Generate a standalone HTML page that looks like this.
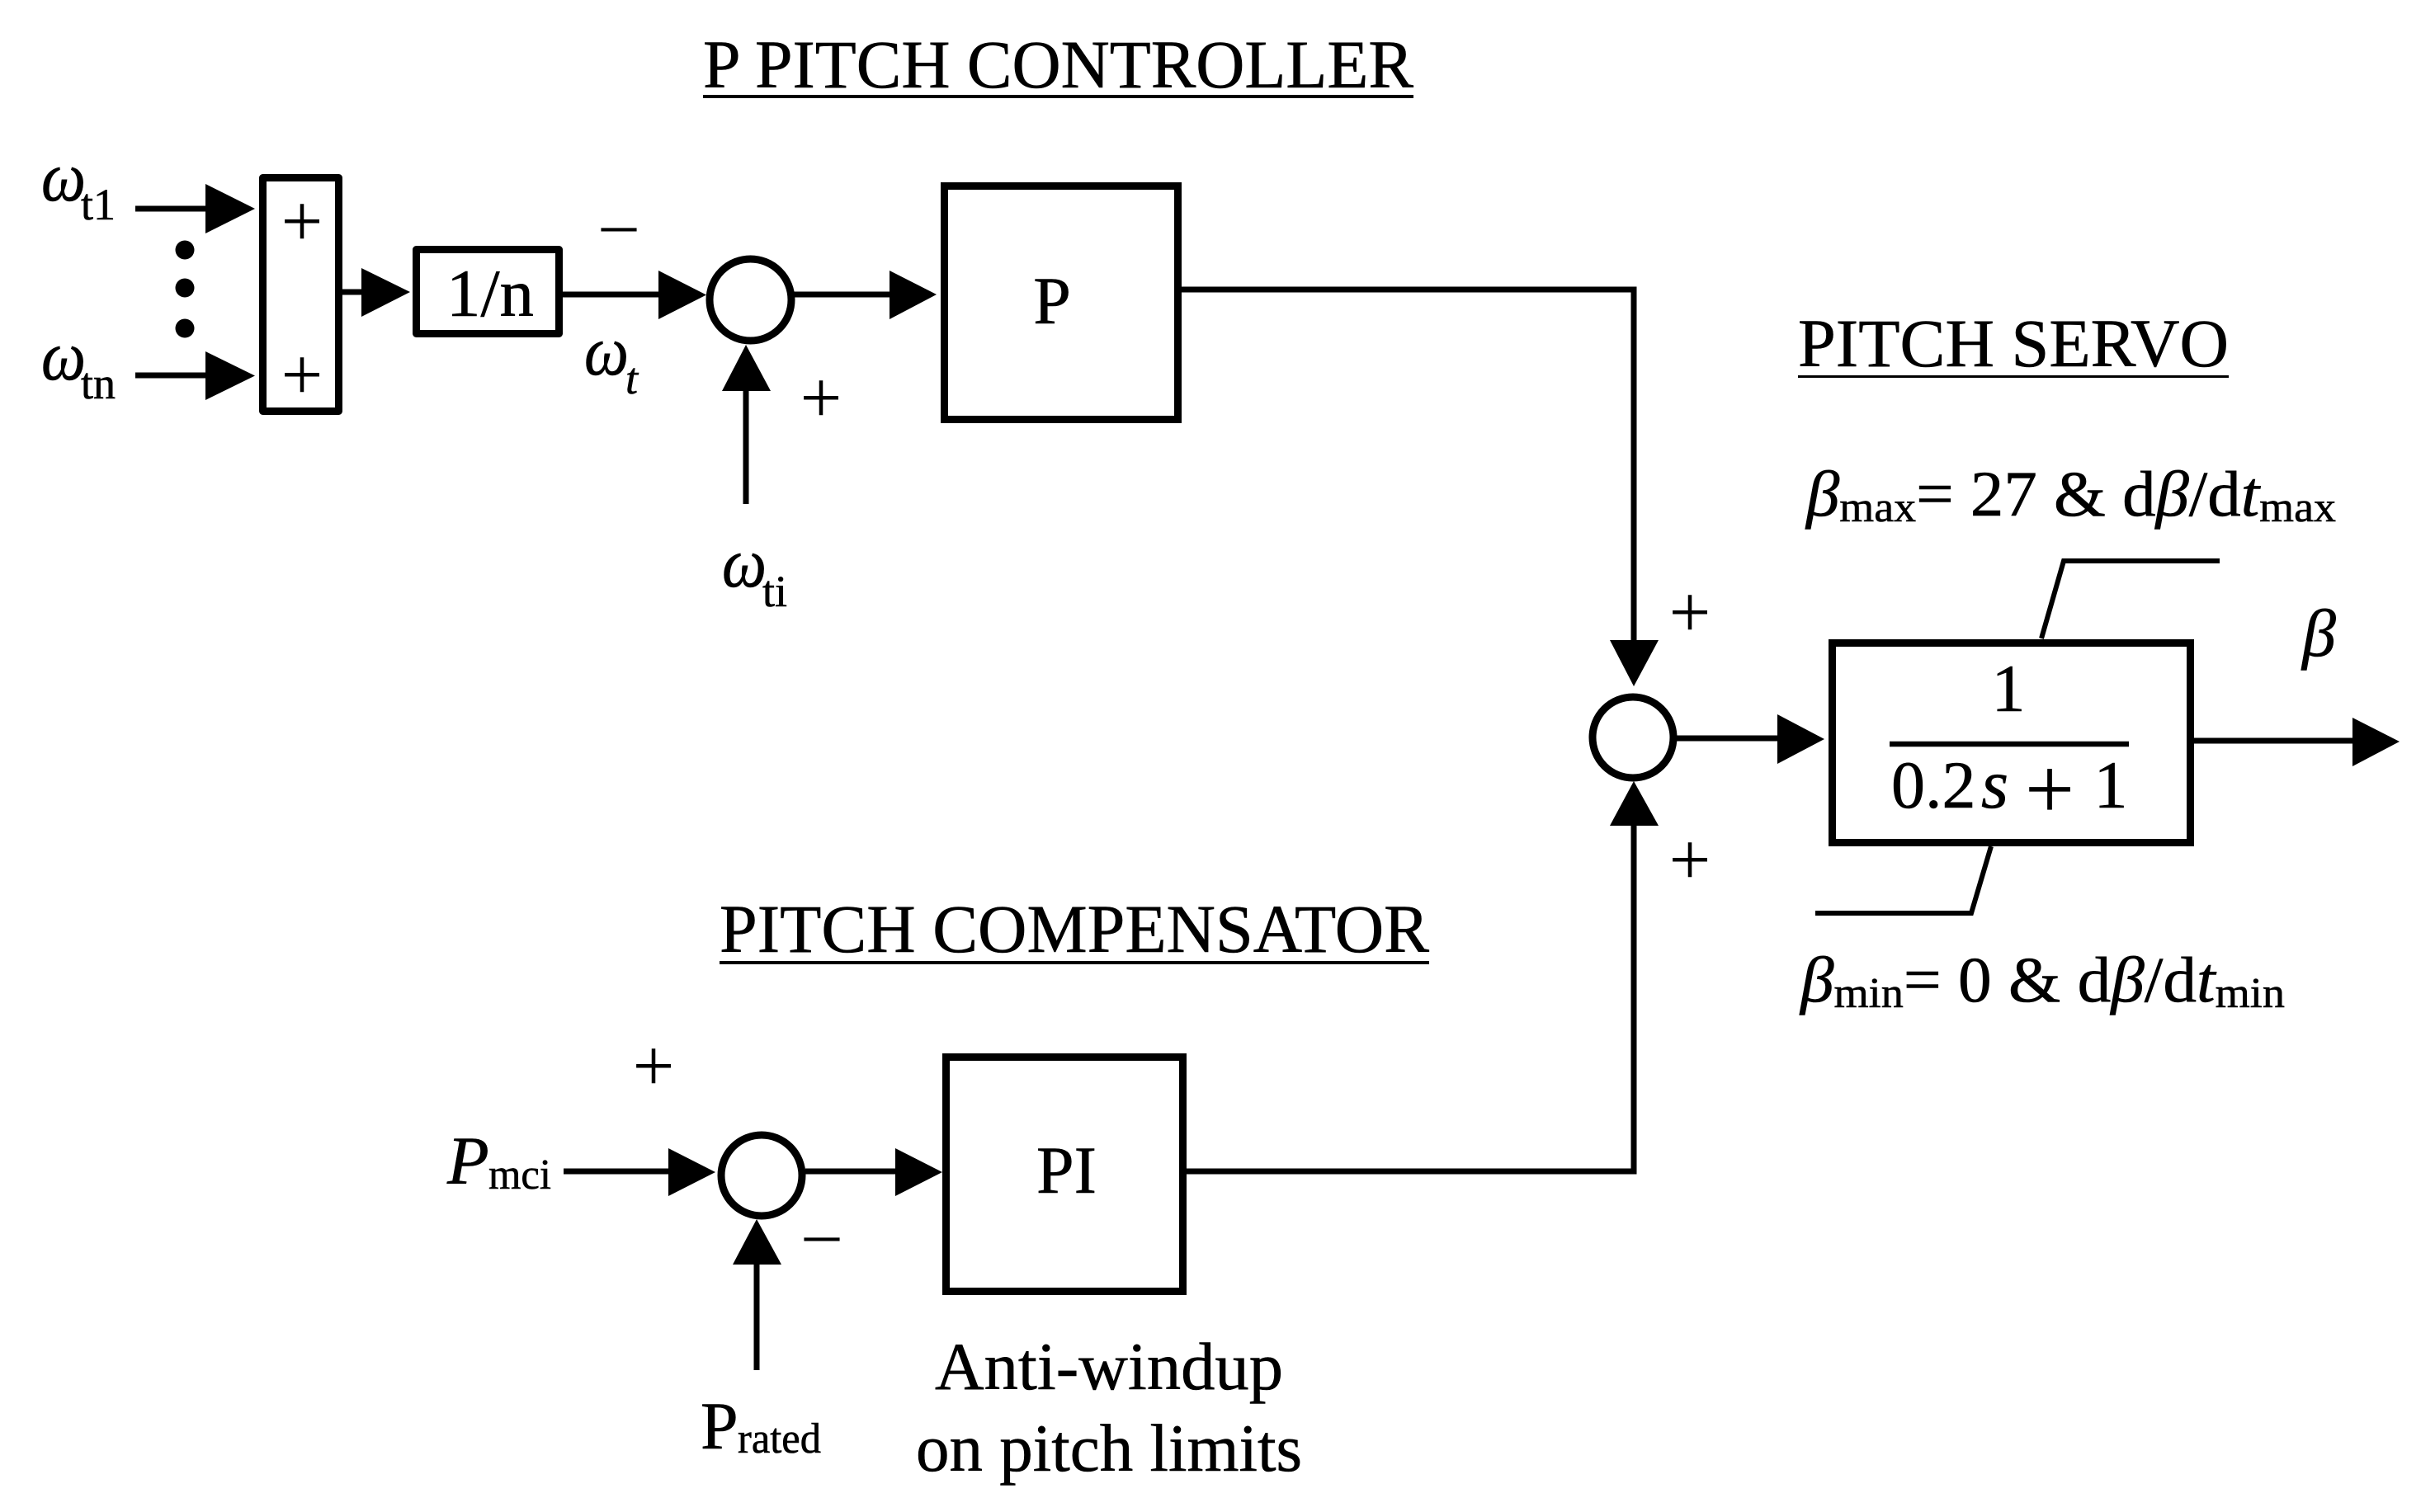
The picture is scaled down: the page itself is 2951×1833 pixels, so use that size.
<!DOCTYPE html>
<html><head><meta charset="utf-8">
<style>
html,body{margin:0;padding:0;background:#fff;width:2951px;height:1833px;overflow:hidden}
svg{display:block}
text{font-family:"Liberation Serif","DejaVu Serif",serif;fill:#000;stroke:#000;stroke-width:.6}
.i{font-style:italic}
.s{font-size:90px;text-anchor:middle;stroke-width:0}
.m{font-size:84px;text-anchor:middle;stroke-width:0}
</style></head><body>
<svg width="2951" height="1833" viewBox="0 0 2951 1833" xmlns="http://www.w3.org/2000/svg">
<rect width="2951" height="1833" fill="#fff" stroke="none"/>

<!-- Titles -->
<text x="852" y="106" font-size="83" textLength="861" lengthAdjust="spacingAndGlyphs">P PITCH CONTROLLER</text>
<rect x="852" y="115" width="861" height="4"/>
<text x="2179" y="444" font-size="83" textLength="522" lengthAdjust="spacingAndGlyphs">PITCH SERVO</text>
<rect x="2179" y="455" width="522" height="3"/>
<text x="872" y="1154" font-size="83" textLength="860" lengthAdjust="spacingAndGlyphs">PITCH COMPENSATOR</text>
<rect x="872" y="1165" width="860" height="4"/>

<g fill="none" stroke="#000">
<!-- Boxes -->
<rect x="318.5" y="215.5" width="92" height="283" stroke-width="9" stroke-linejoin="round"/>
<rect x="504.5" y="302.5" width="173" height="102" stroke-width="9" stroke-linejoin="round"/>
<rect x="1144.5" y="225.5" width="283" height="283" stroke-width="9"/>
<rect x="2220.5" y="779.5" width="434" height="242" stroke-width="9"/>
<rect x="1146.5" y="1281.5" width="287" height="284" stroke-width="9"/>
<!-- Circles -->
<circle cx="909.5" cy="363.5" r="49.5" stroke-width="9"/>
<circle cx="1979" cy="894" r="49" stroke-width="9"/>
<circle cx="923" cy="1425" r="49" stroke-width="9"/>
<!-- Connectors -->
<g stroke-width="7">
<path d="M164 253H255"/>
<path d="M164 455H255"/>
<path d="M414 354H442"/>
<path d="M681 357H803"/>
<path d="M961 357H1082"/>
<path d="M1432 351H1980V780"/>
<path d="M2032 895H2158"/>
<path d="M2659 898H2855"/>
<path d="M683 1420H814"/>
<path d="M976 1420H1089"/>
<path d="M1438 1420H1980V997"/>
<path d="M904 611V470"/>
<path d="M917 1661V1530"/>
</g>
<!-- Limiters -->
<path d="M2474 774L2501 680H2690" stroke-width="6"/>
<path d="M2413 1026L2389 1107H2200" stroke-width="6"/>
<!-- Fraction bar -->
<path d="M2290 902H2580" stroke-width="6.5"/>
</g>

<!-- Arrowheads -->
<g fill="#000">
<polygon points="249,223 309,253 249,283"/>
<polygon points="249,426 309,455.5 249,485"/>
<polygon points="438,325 497,354 438,384"/>
<polygon points="798,328 856,357.5 798,387"/>
<polygon points="1078,328 1135,357 1078,387"/>
<polygon points="875,474 904,418 934,474"/>
<polygon points="1951,776 2010,776 1980,832"/>
<polygon points="1951,1001 2010,1001 1980,947"/>
<polygon points="2154,866 2211,896 2154,926"/>
<polygon points="2851,870 2908,899 2851,929"/>
<polygon points="810,1392 867,1421 810,1450"/>
<polygon points="1085,1392 1142,1421 1085,1450"/>
<polygon points="888,1533 917,1478 947,1533"/>
<!-- Dots -->
<circle cx="224" cy="303" r="11.5"/>
<circle cx="224" cy="349" r="11.5"/>
<circle cx="224" cy="398" r="11.5"/>
</g>

<!-- Signs -->
<text class="s" x="366" y="298">+</text>
<text class="s" x="366" y="484">+</text>
<text class="s" x="995" y="512">+</text>
<text class="s" x="2048" y="772">+</text>
<text class="s" x="2048" y="1072">+</text>
<text class="s" x="792" y="1322">+</text>
<text class="m" x="750" y="298">–</text>
<text class="m" x="996" y="1522">–</text>

<!-- Block labels -->
<text x="541" y="383" font-size="82" textLength="106" lengthAdjust="spacingAndGlyphs">1/n</text>
<text x="1275" y="392" font-size="82" text-anchor="middle">P</text>
<text x="1292.5" y="1446" font-size="82" text-anchor="middle">PI</text>
<text x="2434" y="862" font-size="82" text-anchor="middle">1</text>
<text x="2292" y="979" font-size="82">0.2</text>
<text x="2401" y="979" font-size="85" class="i">s</text>
<text x="2484" y="992" font-size="106" text-anchor="middle" style="stroke-width:.3">+</text>
<text x="2558" y="979" font-size="82" text-anchor="middle">1</text>

<!-- Signal labels -->
<text x="50" y="243" font-size="86" class="i" textLength="54" lengthAdjust="spacingAndGlyphs">ω</text>
<text x="98" y="266" font-size="54">t1</text>
<text x="50" y="460" font-size="86" class="i" textLength="54" lengthAdjust="spacingAndGlyphs">ω</text>
<text x="98" y="483" font-size="54">tn</text>
<text x="708" y="454" font-size="86" class="i" textLength="54" lengthAdjust="spacingAndGlyphs">ω</text>
<text x="758" y="477" font-size="54" class="i">t</text>
<text x="875" y="711" font-size="86" class="i" textLength="54" lengthAdjust="spacingAndGlyphs">ω</text>
<text x="924" y="735" font-size="54">ti</text>

<text x="542" y="1435" font-size="83" class="i">P</text>
<text x="592" y="1441" font-size="52" textLength="76" lengthAdjust="spacingAndGlyphs">mci</text>
<text x="849" y="1756" font-size="82">P</text>
<text x="894" y="1761" font-size="52" textLength="101" lengthAdjust="spacingAndGlyphs">rated</text>

<text x="1133" y="1684" font-size="82" textLength="422" lengthAdjust="spacingAndGlyphs">Anti-windup</text>
<text x="1110" y="1783" font-size="82" textLength="468" lengthAdjust="spacingAndGlyphs">on pitch limits</text>

<text x="2790" y="795" font-size="82" class="i">β</text>

<text x="2189" y="625" font-size="78" textLength="642" lengthAdjust="spacingAndGlyphs"><tspan class="i">β</tspan><tspan font-size="52" dy="7">max</tspan><tspan dy="-7">= 27 &amp; d</tspan><tspan class="i">β</tspan>/d<tspan class="i">t</tspan><tspan font-size="52" dy="7">max</tspan></text>
<text x="2182" y="1214" font-size="78" textLength="587" lengthAdjust="spacingAndGlyphs"><tspan class="i">β</tspan><tspan font-size="52" dy="7">min</tspan><tspan dy="-7">= 0 &amp; d</tspan><tspan class="i">β</tspan>/d<tspan class="i">t</tspan><tspan font-size="52" dy="7">min</tspan></text>
</svg>
</body></html>
